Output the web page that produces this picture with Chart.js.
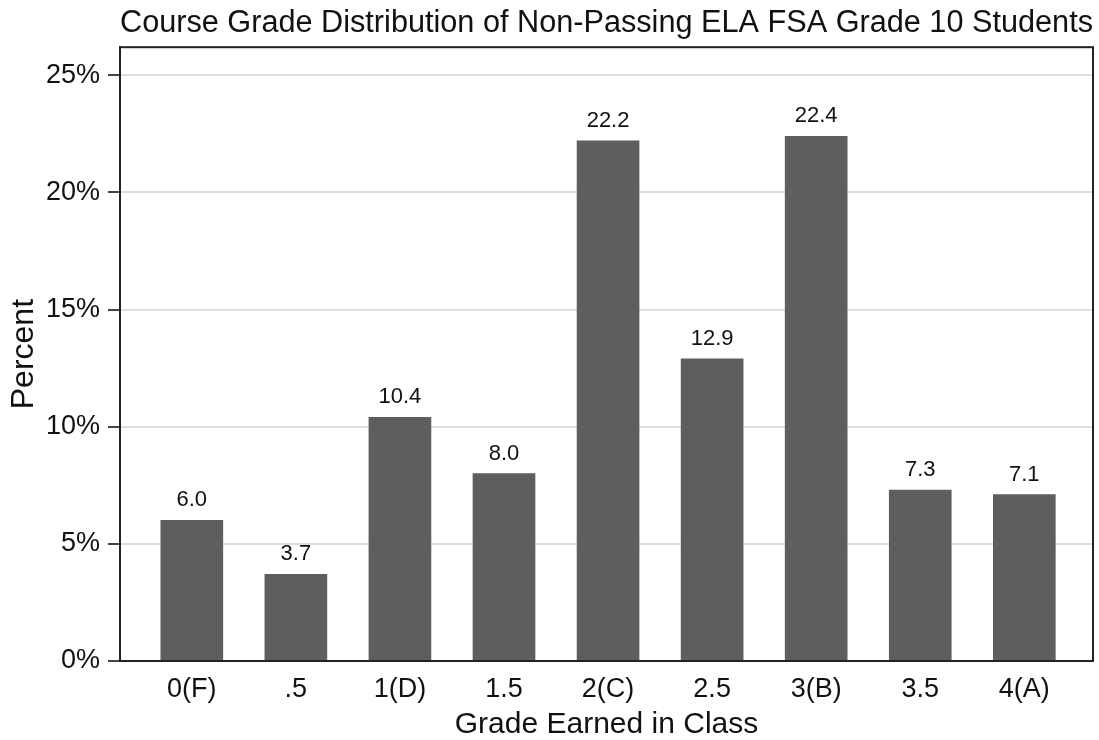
<!DOCTYPE html>
<html>
<head>
<meta charset="utf-8">
<script src="https://cdn.jsdelivr.net/npm/chart.js@4/dist/chart.umd.min.js"></script>
<style>
  html, body { margin: 0; padding: 0; background: #fff; }
  #wrap { width: 1099px; height: 740px; position: relative; }
</style>
</head>
<body>
<div id="wrap"><canvas id="c" width="1099" height="740"></canvas></div>
<script>
const categories = ['0(F)', '.5', '1(D)', '1.5', '2(C)', '2.5', '3(B)', '3.5', '4(A)'];
const percents = [6.0, 3.7, 10.4, 8.0, 22.2, 12.9, 22.4, 7.3, 7.1];
const yTicks = [0, 5, 10, 15, 20, 25];

const FONT = '"Liberation Sans", Arial, Helvetica, sans-serif';

// Box around the plotting region
const frame = {
  id: 'frame',
  afterDraw(chart) {
    const a = chart.chartArea, ctx = chart.ctx;
    ctx.save();
    ctx.strokeStyle = '#222';
    ctx.lineWidth = 2;
    ctx.strokeRect(a.left, a.top, a.right - a.left, a.bottom - a.top);
    ctx.restore();
  }
};

// Value printed above each bar
const barValues = {
  id: 'barValues',
  afterDatasetsDraw(chart) {
    const ctx = chart.ctx;
    const meta = chart.getDatasetMeta(0);
    ctx.save();
    ctx.font = '22px ' + FONT;
    ctx.fillStyle = '#111';
    ctx.textAlign = 'center';
    ctx.textBaseline = 'alphabetic';
    meta.data.forEach((bar, i) => {
      ctx.fillText(percents[i].toFixed(1), bar.x, bar.y - 14);
    });
    ctx.restore();
  }
};

new Chart(document.getElementById('c'), {
  type: 'bar',
  data: {
    datasets: [{
      data: percents.map((v, i) => ({ x: i, y: v })),
      backgroundColor: '#5e5e5e',
      borderWidth: 0,
      barThickness: 62
    }]
  },
  plugins: [frame, barValues],
  options: {
    responsive: false,
    animation: false,
    devicePixelRatio: 1,
    layout: { padding: { left: 0, right: 6, top: 0, bottom: 0 } },
    plugins: {
      legend: { display: false },
      tooltip: { enabled: false },
      title: {
        display: true,
        fullSize: false,
        text: 'Course Grade Distribution of Non-Passing ELA FSA Grade 10 Students',
        color: '#111',
        font: { family: FONT, size: 31, weight: 'normal', lineHeight: 1.2 },
        padding: { top: 5, bottom: 5 }
      }
    },
    scales: {
      x: {
        type: 'linear',
        offset: false,
        min: -0.69,
        max: 8.66,
        afterBuildTicks(scale) {
          scale.ticks = categories.map((_, i) => ({ value: i }));
        },
        afterFit(scale) { scale.height = 79; },
        grid: { display: false, drawTicks: false, offset: false },
        border: { display: true, color: '#222', width: 2 },
        ticks: {
          color: '#111',
          font: { family: FONT, size: 27 },
          padding: 12,
          maxRotation: 0,
          autoSkip: false,
          callback: (v) => categories[v] ?? ''
        },
        title: {
          display: true,
          text: 'Grade Earned in Class',
          color: '#111',
          font: { family: FONT, size: 30, lineHeight: 1.0 },
          padding: { top: 0, bottom: 0 }
        }
      },
      y: {
        min: 0,
        max: 26.2,
        afterBuildTicks(scale) {
          scale.ticks = yTicks.map(v => ({ value: v }));
        },
        afterFit(scale) { scale.width = 120; },
        grid: {
          color: '#dedede',
          lineWidth: 2,
          tickLength: 12,
          tickColor: '#444',
          tickWidth: 2
        },
        border: { display: true, color: '#222', width: 2 },
        ticks: {
          color: '#111',
          font: { family: FONT, size: 27 },
          padding: 8,
          callback: (v) => v + '%'
        },
        title: {
          display: true,
          text: 'Percent',
          color: '#111',
          font: { family: FONT, size: 32 },
          padding: { top: 5, bottom: 0 }
        }
      }
    }
  }
});
</script>
</body>
</html>
